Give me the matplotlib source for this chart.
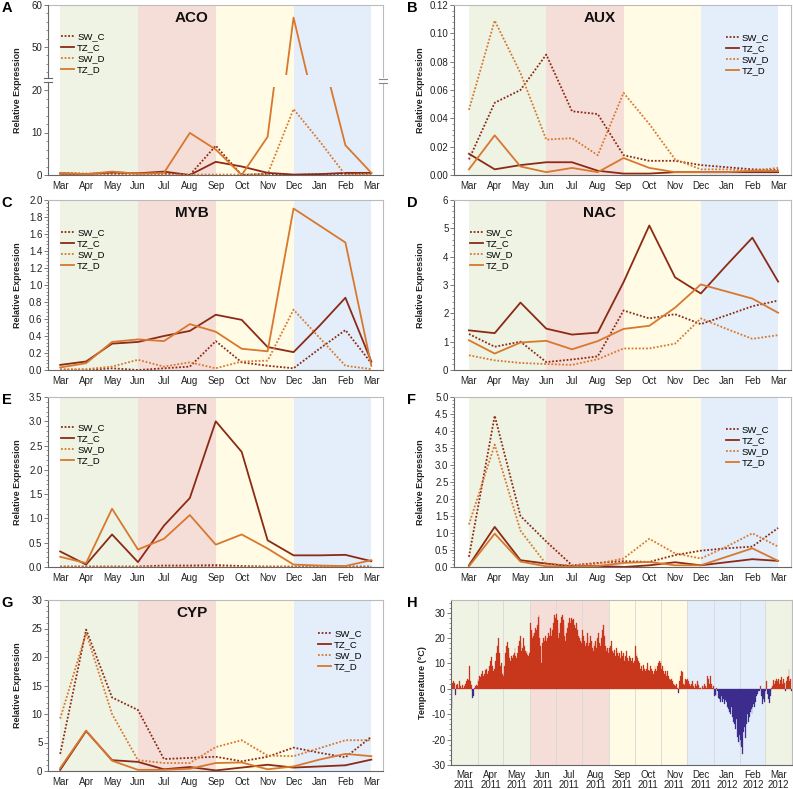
import numpy as np
import matplotlib.pyplot as plt
from matplotlib.ticker import AutoMinorLocator, MultipleLocator, FormatStrFormatter
from matplotlib.lines import Line2D

plt.rcParams['font.family'] = ['Liberation Sans', 'DejaVu Sans']
plt.rcParams['axes.unicode_minus'] = False

W, H = 793, 789

months = ['Mar', 'Apr', 'May', 'Jun', 'Jul', 'Aug', 'Sep', 'Oct', 'Nov', 'Dec', 'Jan', 'Feb', 'Mar']
series_names = ['SW_C', 'TZ_C', 'SW_D', 'TZ_D']

# expression values, one value per month (Mar 2011 .. Mar 2012)
aco_sw_c = [0.5, 0.3, 0.3, 0.3, 0.3, 0.0, 6.9, 0.0, 0.3, 0.0, 0.2, 0.3, 0.3]
aco_tz_c = [0.3, 0.2, 0.6, 0.4, 0.8, 0.0, 3.1, 2.0, 0.5, 0.1, 0.2, 0.5, 0.5]
aco_sw_d = [0.3, 0.1, 0.1, 0.1, 0.1, 0.1, 0.1, 0.1, 0.2, 15.5, 8.0, 0.0, 0.3]
aco_tz_d = [0.5, 0.2, 0.8, 0.3, 0.5, 9.9, 6.0, 0.0, 9.0, 57.0, 31.0, 7.0, 0.5]

aux_sw_c = [0.011, 0.051, 0.060, 0.085, 0.045, 0.043, 0.014, 0.010, 0.010, 0.007, 0.0055, 0.004, 0.0035]
aux_tz_c = [0.015, 0.004, 0.007, 0.009, 0.009, 0.003, 0.001, 0.001, 0.002, 0.002, 0.002, 0.002, 0.002]
aux_sw_d = [0.046, 0.109, 0.072, 0.025, 0.026, 0.014, 0.058, 0.036, 0.011, 0.004, 0.004, 0.003, 0.005]
aux_tz_d = [0.004, 0.028, 0.006, 0.002, 0.005, 0.002, 0.012, 0.005, 0.002, 0.002, 0.002, 0.003, 0.003]

myb_sw_c = [0.00, 0.00, 0.02, 0.00, 0.02, 0.04, 0.34, 0.09, 0.05, 0.02, 0.25, 0.47, 0.08]
myb_tz_c = [0.06, 0.10, 0.31, 0.33, 0.40, 0.46, 0.65, 0.59, 0.27, 0.21, 0.52, 0.85, 0.10]
myb_sw_d = [0.01, 0.01, 0.04, 0.12, 0.04, 0.09, 0.02, 0.10, 0.11, 0.71, 0.38, 0.05, 0.01]
myb_tz_d = [0.03, 0.08, 0.33, 0.36, 0.34, 0.54, 0.45, 0.25, 0.22, 1.90, 1.70, 1.50, 0.05]

nac_sw_c = [1.27, 0.82, 1.00, 0.28, 0.37, 0.48, 2.10, 1.82, 1.97, 1.62, 1.93, 2.25, 2.45]
nac_tz_c = [1.40, 1.30, 2.38, 1.46, 1.25, 1.32, 3.10, 5.10, 3.27, 2.70, 3.70, 4.67, 3.12]
nac_sw_d = [0.52, 0.34, 0.25, 0.21, 0.18, 0.38, 0.76, 0.76, 0.93, 1.82, 1.45, 1.10, 1.23]
nac_tz_d = [1.05, 0.58, 0.97, 1.03, 0.73, 1.02, 1.45, 1.56, 2.20, 3.02, 2.77, 2.52, 2.02]

bfn_sw_c = [0.01, 0.01, 0.01, 0.01, 0.03, 0.03, 0.04, 0.02, 0.01, 0.01, 0.01, 0.01, 0.01]
bfn_tz_c = [0.32, 0.05, 0.67, 0.10, 0.85, 1.42, 3.00, 2.37, 0.55, 0.24, 0.24, 0.25, 0.12]
bfn_sw_d = [0.01, 0.01, 0.01, 0.01, 0.01, 0.01, 0.01, 0.01, 0.01, 0.01, 0.01, 0.01, 0.01]
bfn_tz_d = [0.21, 0.08, 1.20, 0.36, 0.58, 1.07, 0.46, 0.67, 0.38, 0.05, 0.03, 0.02, 0.14]

tps_sw_c = [0.30, 4.45, 1.50, 0.75, 0.05, 0.12, 0.17, 0.15, 0.35, 0.48, 0.55, 0.60, 1.15]
tps_tz_c = [0.05, 1.18, 0.20, 0.10, 0.02, 0.03, 0.00, 0.05, 0.14, 0.05, 0.14, 0.23, 0.18]
tps_sw_d = [1.25, 3.60, 1.07, 0.08, 0.05, 0.10, 0.25, 0.83, 0.40, 0.25, 0.60, 0.99, 0.60]
tps_tz_d = [0.02, 0.98, 0.16, 0.02, 0.00, 0.03, 0.12, 0.15, 0.05, 0.05, 0.30, 0.55, 0.18]

cyp_sw_c = [3.0, 24.8, 12.9, 10.7, 2.1, 2.3, 2.5, 1.7, 2.5, 4.1, 3.2, 2.4, 6.0]
cyp_tz_c = [0.2, 7.0, 1.9, 1.6, 0.3, 0.7, 0.1, 0.6, 1.1, 0.6, 0.8, 1.0, 2.0]
cyp_sw_d = [9.2, 24.2, 10.0, 1.9, 1.4, 1.4, 4.2, 5.4, 2.7, 2.6, 4.0, 5.4, 5.4]
cyp_tz_d = [0.5, 7.1, 1.8, 0.2, 0.2, 0.4, 1.4, 1.5, 0.3, 0.8, 2.0, 3.0, 2.6]

# daily mean temperature (degC), one list per month
t_mar11 = [-7.5, 2.5, 3, 1, 2.5, -2.5, 1.5, 2, 0.5, 3, 2, 1, 0.5, 1.5, 0.5, 1, 2, 0.5, 3, 4, 3.5, 9, 3, 1.5, -1, -3.5, -3, 0.5, 1, 1.5, 1]
t_apr11 = [4, 3, 5, 4.5, 6, 7, 5, 4, 6, 7.5, 8, 6, 7, 9, 11, 10, 12.5, 9, 7, 8, 11, 14, 12, 17, 20, 14, 9, 10, 6, 4.5]
t_may11 = [5, 9, 14, 17, 18.5, 16, 14, 12, 11, 13, 12, 13.5, 14, 16, 13, 12, 14, 17, 19, 21, 18, 15, 16, 20, 17, 15, 14, 15, 13.5, 13, 14]
t_jun11 = [26, 23, 20, 22, 21, 22, 24, 23, 25, 28.5, 29, 20, 17, 10, 18, 20, 19, 20, 21, 19, 20, 22, 21, 24, 20, 21, 23, 26, 29, 28]
t_jul11 = [29.5, 27, 24, 20, 22, 26, 28.5, 29, 27, 25, 21, 19, 22, 24, 26, 28, 27, 26, 28, 27, 27.5, 25, 24, 22, 26, 23, 21, 20, 19, 18, 20]
t_aug11 = [23, 21, 19, 17, 18, 22, 20, 17, 18, 21, 19, 16, 15, 18, 17, 19, 16, 20, 22, 18, 16, 17, 20, 23, 25, 21, 17, 16, 15, 16, 14]
t_sep11 = [16, 17, 19, 16, 15, 14, 15.5, 13, 16, 14, 15, 13, 14, 12, 15, 13, 14, 11, 12, 13, 15, 12, 11, 13, 12, 10, 11, 12, 10, 11]
t_oct11 = [17, 13, 14, 12, 11, 10, 8, 9, 7, 8, 9.5, 8, 7, 8, 10, 7.5, 6, 7, 9, 8, 7, 6, 7, 9, 8, 7, 9, 10, 11, 10, 11]
t_nov11 = [8, 9, 7, 6, 7, 5, 6, 7, 5, 4, 3.5, 4, 3, 2.5, 2, 1.5, 1, 2, 0.5, -1.5, 1, 3, 5, 7, 6.5, 2, 1.5, 3, 4, 3.5]
t_dec11 = [4, 3, 2, 1, 2, 1.5, 3, 1, 0.5, 2, 1, 3, 2.5, 1.5, 0.5, 0.5, 0, 1, 0.5, 1, 2, 1, 0.5, 5, 4, 2, 1, 5, 2, 0.5, 1]
t_jan12 = [-3, -2.5, -3, 0.5, -1, -3.5, -4, -5, -3, -4.5, -5, -4, -6, -4.5, -5, -7, -6, -8, -9, -10, -7, -11, -13, -10, -14, -16, -12, -19, -21, -18, -22]
t_feb12 = [-20, -23, -25.5, -17, -15, -19.5, -12, -14, -10, -13, -11, -9, -8, -10, -7, -6, -7, -5, -3, -2, -1, -0.5, -1, 1, -3, -6, -4, -5, -2]
t_mar12 = [-1, 3, -2, -4, -5.5, -3, -1, 0.5, 1, 3.5, 2, 3, 4, 2.5, 3, 4, 2, 3.5, 4.5, 2, 3, 4, 2.5, -1, 3, 4.5, 5, 8, 3, 4, -1]
temp_months = [t_mar11, t_apr11, t_may11, t_jun11, t_jul11, t_aug11, t_sep11,
               t_oct11, t_nov11, t_dec11, t_jan12, t_feb12, t_mar12]
temp_labels = ['Mar\n2011', 'Apr\n2011', 'May\n2011', 'Jun\n2011', 'Jul\n2011', 'Aug\n2011',
               'Sep\n2011', 'Oct\n2011', 'Nov\n2011', 'Dec\n2011', 'Jan\n2012', 'Feb\n2012', 'Mar\n2012']

DARK = '#8C2A14'
ORANGE = '#D8782E'
styles = [(DARK, (0, (1, 1))), (DARK, '-'), (ORANGE, (0, (1, 1))), (ORANGE, '-')]
GREEN, PINK, YELLOW, BLUE = '#EEF3E4', '#F6DED8', '#FFFBE4', '#E3EEFA'
seasons = [(0, 3, GREEN), (3, 6, PINK), (6, 9, YELLOW), (9, 12, BLUE)]
FS = 7

fig = plt.figure(figsize=(W / 100, H / 100), dpi=100)


def px_axes(l, t, r, b):
    return fig.add_axes([l / W, 1 - b / H, (r - l) / W, (b - t) / H])


def fig_line(xs, ys, **kw):
    fig.add_artist(Line2D([v / W for v in xs], [1 - v / H for v in ys],
                          transform=fig.transFigure, **kw))


def style(ax, xlim):
    ax.set_xlim(*xlim)
    for s in ['top', 'right']:
        ax.spines[s].set_color('#BBBBBB')
        ax.spines[s].set_linewidth(0.8)
    for s in ['left', 'bottom']:
        ax.spines[s].set_color('#666666')
        ax.spines[s].set_linewidth(0.8)
    ax.tick_params(axis='y', which='major', direction='out', length=3, width=0.6,
                   color='#666666', labelsize=FS, pad=1, labelcolor='#222222')
    ax.tick_params(axis='y', which='minor', direction='out', length=1.5, width=0.5, color='#666666')
    ax.tick_params(axis='x', length=0, labelsize=FS, pad=4, labelcolor='#222222')


def draw_lines(ax, data):
    hs = []
    for vals, (c, ls), name in zip(data, styles, series_names):
        h, = ax.plot(range(len(months)), vals, color=c, linestyle=ls, lw=1.3, label=name, zorder=3)
        hs.append(h)
    return hs


def add_legend(ax, hs, fx, fy):
    ax.legend(handles=hs, loc='upper left', bbox_to_anchor=(fx, fy), frameon=False,
              fontsize=6.8, borderpad=0, borderaxespad=0, handlelength=1.4,
              handletextpad=0.3, labelspacing=0.22)


LEFT = (48, 383, (-0.47, 12.45))
RIGHT = (454, 791, (-0.58, 12.5))

panels = [
    ('B', 'AUX', [aux_sw_c, aux_tz_c, aux_sw_d, aux_tz_d], RIGHT, (5, 175), (0, 0.12), 0.02, '%.2f', (0.807, 0.835)),
    ('C', 'MYB', [myb_sw_c, myb_tz_c, myb_sw_d, myb_tz_d], LEFT, (200, 370), (0, 2.0), 0.2, '%.1f', (0.039, 0.835)),
    ('D', 'NAC', [nac_sw_c, nac_tz_c, nac_sw_d, nac_tz_d], RIGHT, (200, 370), (0, 6), 1, '%d', (0.047, 0.835)),
    ('E', 'BFN', [bfn_sw_c, bfn_tz_c, bfn_sw_d, bfn_tz_d], LEFT, (397, 567), (0, 3.5), 0.5, '%.1f', (0.039, 0.845)),
    ('F', 'TPS', [tps_sw_c, tps_tz_c, tps_sw_d, tps_tz_d], RIGHT, (397, 567), (0, 5.0), 0.5, '%.1f', (0.807, 0.835)),
    ('G', 'CYP', [cyp_sw_c, cyp_tz_c, cyp_sw_d, cyp_tz_d], LEFT, (600, 771), (0, 30), 5, '%d', (0.806, 0.83)),
]

for letter, title, data, (l, r, xl), (t, b), yl, step, fmt, lpos in panels:
    ax = px_axes(l, t, r, b)
    style(ax, xl)
    for a, c_, col in seasons:
        ax.axvspan(a, c_, color=col, lw=0, zorder=0)
    hs = draw_lines(ax, data)
    ax.set_ylim(*yl)
    ax.yaxis.set_major_locator(MultipleLocator(step))
    ax.yaxis.set_minor_locator(AutoMinorLocator(5))
    ax.yaxis.set_major_formatter(FormatStrFormatter(fmt))
    ax.set_xticks(range(len(months)))
    ax.set_xticklabels(months)
    ax.set_ylabel('Relative Expression', fontsize=6.5, fontweight='bold', color='#222222')
    ax.yaxis.set_label_coords((-26 if l < 400 else -29) / (r - l), 0.5)
    ax.text(5.08, 0.924, title, transform=ax.get_xaxis_transform(), ha='center', va='center',
            fontsize=11, fontweight='bold', color='#111111')
    add_legend(ax, hs, *lpos)
    fig.text((7 if l < 400 else 412) / W, 1 - (t + 3) / H, letter, fontsize=10.5,
             fontweight='bold', ha='center', va='center')

# panel A, broken y axis
l, r, xl = LEFT
bg = px_axes(l, 5, r, 175)
style(bg, xl)
for a, c_, col in seasons:
    bg.axvspan(a, c_, color=col, lw=0, zorder=0)
bg.spines['left'].set_visible(False)
bg.spines['bottom'].set_visible(False)
bg.set_xticks([])
bg.set_yticks([])
bg.set_ylabel('Relative Expression', fontsize=6.5, fontweight='bold', color='#222222')
bg.yaxis.set_label_coords(-26 / (r - l), 0.5)
bg.text(5.08, 0.924, 'ACO', transform=bg.get_xaxis_transform(), ha='center', va='center',
        fontsize=11, fontweight='bold', color='#111111')

up = px_axes(l, 5, r, 75)
low = px_axes(l, 87, r, 175)
for a_ in (up, low):
    style(a_, xl)
    a_.patch.set_visible(False)
    a_.spines['top'].set_visible(False)
    a_.spines['right'].set_visible(False)
    a_.yaxis.set_minor_locator(AutoMinorLocator(5))
up.spines['bottom'].set_visible(False)
up.set_ylim(60 - 70 / 4.2, 60)
up.set_yticks([50, 60])
up.set_xticks([])
low.set_ylim(0, 88 / 4.25)
low.set_yticks([0, 10, 20])
low.set_xticks(range(len(months)))
low.set_xticklabels(months)
draw_lines(up, [aco_sw_c, aco_tz_c, aco_sw_d, aco_tz_d])
hs = draw_lines(low, [aco_sw_c, aco_tz_c, aco_sw_d, aco_tz_d])
add_legend(bg, hs, 0.039, 0.84)
fig.text(7 / W, 1 - 8 / H, 'A', fontsize=10.5, fontweight='bold', ha='center', va='center')
# break marks
fig_line([l, l], [75, 77.5], color='#666666', lw=0.8)
fig_line([l, l], [81.5, 87], color='#666666', lw=0.8)
for yy in (77.5, 81.5):
    fig_line([l - 4, l + 4], [yy, yy], color='#666666', lw=0.8)
fig_line([r, r], [78.5, 82.5], color='white', lw=1.5)
for yy in (78.5, 82.5):
    fig_line([r - 4, r + 4], [yy, yy], color='#888888', lw=0.8)

# panel H, daily temperature
temps = np.concatenate([np.array(m, dtype=float) for m in temp_months])
lens = np.array([len(m) for m in temp_months])
bounds = np.concatenate([[0], np.cumsum(lens)])
days = np.arange(len(temps))
axh = px_axes(451, 600, 792, 765)
style(axh, (0, bounds[-1]))
for i0, i1, col in [(0, 3, GREEN), (3, 6, PINK), (6, 9, YELLOW), (9, 12, BLUE), (12, 13, GREEN)]:
    axh.axvspan(bounds[i0], bounds[i1], color=col, lw=0, zorder=0)
for bnd in bounds[1:-1]:
    axh.axvline(bnd, color='#D8D8D8', lw=0.6, zorder=1)
cols = np.where(temps >= 0, '#C8361B', '#3B2C8E')
axh.bar(days, temps, width=1.0, align='edge', color=cols, edgecolor=cols, linewidth=0.2, zorder=2)
axh.set_ylim(-30, 35)
axh.set_yticks(range(-30, 31, 10))
axh.yaxis.set_minor_locator(AutoMinorLocator(5))
axh.set_xticks(bounds[:-1] + lens / 2)
axh.set_xticklabels(temp_labels, linespacing=1.05)
axh.tick_params(axis='x', pad=3.5)
axh.set_ylabel('Temperature (°C)', fontsize=6.5, fontweight='bold', color='#222222')
axh.yaxis.set_label_coords(-24 / 341, 0.5)
fig.text(412 / W, 1 - 603 / H, 'H', fontsize=10.5, fontweight='bold', ha='center', va='center')

fig.savefig('out.png', dpi=100)
